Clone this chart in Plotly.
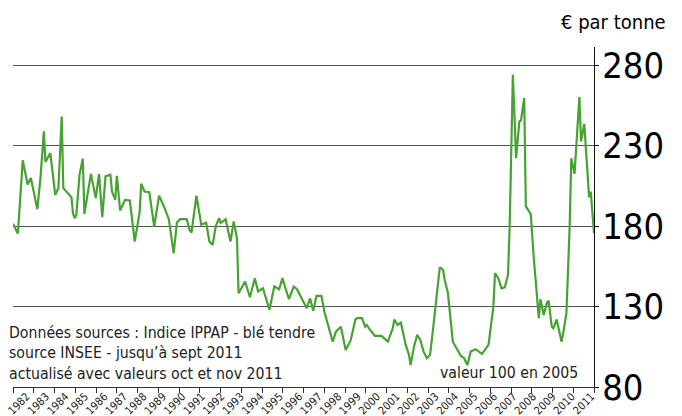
import plotly.graph_objects as go
import numpy as np

months = ["1982-01","1982-04","1982-07","1982-10","1982-12","1983-04","1983-06","1983-08","1983-09","1983-12",
"1984-03","1984-05","1984-07","1984-08","1985-01","1985-02","1985-03","1985-04","1985-06","1985-08","1985-09",
"1986-01","1986-04","1986-06","1986-08","1986-10","1987-01","1987-02","1987-04","1987-05","1987-07","1987-10",
"1988-01","1988-04","1988-07","1988-08","1988-10","1989-01","1989-04","1989-07","1989-10","1990-01","1990-04",
"1990-06","1990-08","1990-12","1991-02","1991-03","1991-06","1991-09","1991-12","1992-02","1992-04","1992-06",
"1992-08","1992-09","1992-12","1993-03","1993-05","1993-07","1993-08","1993-12","1994-03","1994-06","1994-08",
"1994-11","1995-03","1995-06","1995-09","1995-11","1996-03","1996-06","1996-08","1997-02","1997-04","1997-06",
"1997-08","1997-11","1998-01","1998-06","1998-08","1998-11","1999-02","1999-05","1999-08","1999-09","1999-12",
"2000-02","2000-03","2000-05","2000-08","2000-12","2001-04","2001-07","2001-08","2001-10","2001-12","2002-03",
"2002-05","2002-06","2002-08","2002-10","2002-12","2003-02","2003-04","2003-06","2003-08","2003-10","2003-12",
"2004-02","2004-03","2004-05","2004-08","2005-01","2005-03","2005-05","2005-07","2005-10","2006-02","2006-06",
"2006-09","2006-10","2006-12","2007-02","2007-04","2007-06","2007-07","2007-08","2007-09","2007-11","2008-01",
"2008-02","2008-04","2008-05","2008-08","2008-10","2009-01","2009-02","2009-04","2009-06","2009-07","2009-09",
"2009-10","2009-12","2010-03","2010-04","2010-06","2010-08","2010-09","2010-11","2011-02","2011-03","2011-05",
"2011-08","2011-09","2011-11"]
prix = [181.5,175.3,221,206,210,190.6,211,239,220,225.5,
199.5,203.7,248.3,203.7,198,187.7,185,187,212,222,187.7,
212.6,197.5,212.6,185.6,211,212,201.6,196.4,211.4,189.8,196.4,
196,170.5,188.5,206.4,201.6,201.2,179.8,199,192.3,184.4,163.2,
182.3,184.4,184.4,177.3,176,199,181,182.3,170.5,168.4,180.2,
185,182,184.4,170.5,183,172.6,138.3,145.6,135.8,147.7,139.4,
141.4,128,142.5,140.8,147.7,134.6,142.5,140.8,129,135.2,127.5,
136.7,136.7,126.3,108.2,114.4,117.5,103,108.8,122,122.8,122.8,
117.5,118.6,115.5,111.8,111.8,108.2,116.5,122,118.6,120,106.2,
100,93.7,104.7,112.4,109.3,102,97.9,100,117.5,138.3,154.5,
152.8,146.6,138.3,108.2,99.3,97.9,93.7,102,103.5,100.6,106.2,
130,150.8,147.7,141.4,142,149.7,178.8,225.5,274.3,222.3,245.2,
245.8,259.8,192.3,187.7,159,122.8,134.6,124.8,132.5,133.7,117.5,
116.5,122,108.2,113.4,125.9,179.8,222.3,212.6,260.4,232.7,243.7,
198,201.6,175.7]

annees = list(range(1982, 2012))
y_ticks = [80, 130, 180, 230, 280]

t = [int(m[:4]) + (int(m[5:]) - 1) / 12 for m in months]
x0, x1 = t[0], t[-1]
y_range = [80, 291.5]

fig = go.Figure()
fig.add_trace(go.Scatter(x=t, y=prix, mode="lines",
                         line=dict(color="#46a332", width=2.2), showlegend=False,
                         hoverinfo="skip"))

txt_font = "DejaVu Sans Condensed, sans-serif"
num_font = "DejaVu Sans Condensed, sans-serif"

fig.update_layout(
    width=682, height=416,
    margin=dict(l=13, r=88, t=47, b=29, autoexpand=False),
    plot_bgcolor="white", paper_bgcolor="white",
    xaxis=dict(range=[x0, x1], showgrid=False, zeroline=False, automargin=False,
               showline=True, linecolor="#333", linewidth=1,
               tickvals=list(np.linspace(x0, x1, 29)), ticks="outside",
               ticklen=5, tickcolor="#333", showticklabels=False),
    xaxis2=dict(range=[x0, x1], overlaying="x", anchor="y", side="bottom",
                showgrid=False, zeroline=False, showline=False, automargin=False,
                tickvals=[a + 0.7 for a in annees], ticktext=[str(a) for a in annees],
                ticks="", tickangle=-45,
                tickfont=dict(family=txt_font, size=11, color="#222")),
    yaxis=dict(range=y_range, side="right", showgrid=True, automargin=False,
               gridcolor="#555", gridwidth=1, zeroline=False,
               showline=True, linecolor="#111", linewidth=1,
               tickvals=y_ticks, ticks="",
               tickfont=dict(family=num_font, size=36, color="black")),
    yaxis2=dict(range=y_range, side="right", overlaying="y", anchor="x",
                showgrid=False, zeroline=False, showline=False, automargin=False,
                tickvals=y_ticks, ticks="outside", ticklen=4, tickcolor="#111",
                showticklabels=False),
)
fig.add_trace(go.Scatter(x=[x0], y=[80], xaxis="x2", yaxis="y2", mode="markers",
                         marker=dict(opacity=0), showlegend=False, hoverinfo="skip"))

fig.add_annotation(xref="paper", yref="paper", x=1.034, y=1.0735,
                   text="€ par tonne", showarrow=False, xanchor="center", yanchor="middle",
                   font=dict(family=txt_font, size=20, color="black"))
fig.add_annotation(xref="paper", yref="paper", x=-0.0103, y=0.1,
                   text="Données sources : Indice IPPAP - blé tendre<br>source INSEE - jusqu’à sept 2011<br>actualisé avec valeurs oct et nov 2011",
                   showarrow=False, xanchor="left", yanchor="middle", align="left",
                   font=dict(family=txt_font, size=15.7, color="#222"))
fig.add_annotation(xref="paper", yref="paper", x=0.7315, y=0.044,
                   text="valeur 100 en 2005", showarrow=False, xanchor="left", yanchor="middle",
                   font=dict(family=txt_font, size=15.7, color="#222"))

fig.write_html("out.html", config={"displayModeBar": False},
               post_script="document.body.style.margin='0';document.body.style.overflow='hidden';")
